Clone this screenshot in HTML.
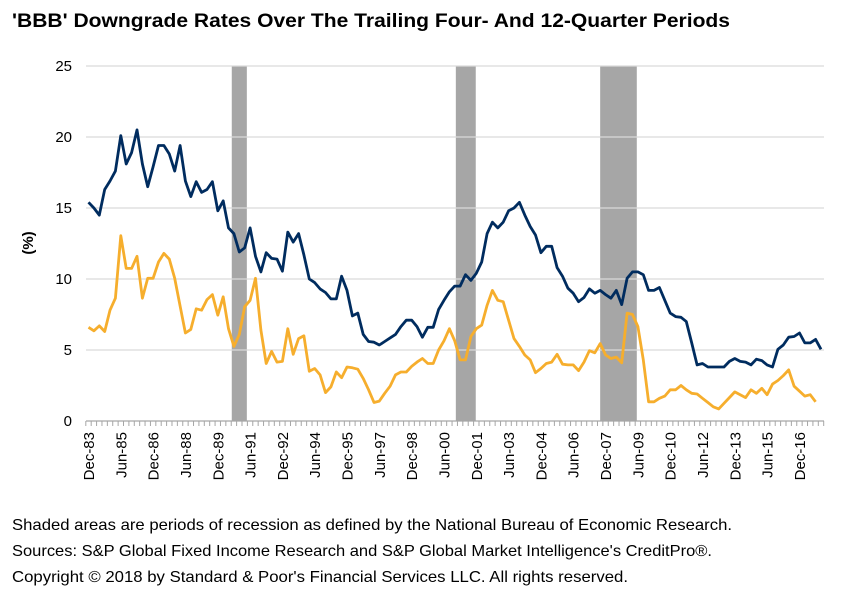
<!DOCTYPE html>
<html><head><meta charset="utf-8">
<style>
body{margin:0;background:#fff;width:859px;height:615px;overflow:hidden;font-family:"Liberation Sans",Arial,sans-serif;}
svg{position:absolute;left:0;top:0}
</style></head>
<body>
<svg id="chart" width="859" height="615">
<text x="12" y="27" font-size="19" font-weight="bold" fill="#000" textLength="718" lengthAdjust="spacingAndGlyphs">'BBB' Downgrade Rates Over The Trailing Four- And 12-Quarter Periods</text>
<text transform="translate(33,243) rotate(-90)" text-anchor="middle" font-size="15" font-weight="bold">(%)</text>
<g id="bands"></g><g id="grid"></g><g id="xaxis"></g><g id="series"></g>
<text x="12" y="530" font-size="16" textLength="720" lengthAdjust="spacingAndGlyphs">Shaded areas are periods of recession as defined by the National Bureau of Economic Research.</text>
<text x="12" y="556" font-size="16" textLength="700" lengthAdjust="spacingAndGlyphs">Sources: S&amp;P Global Fixed Income Research and S&amp;P Global Market Intelligence's CreditPro®.</text>
<text x="12" y="582" font-size="16" textLength="616" lengthAdjust="spacingAndGlyphs">Copyright © 2018 by Standard &amp; Poor's Financial Services LLC. All rights reserved.</text>
</svg>
<script>
const tickLabels=["Dec-83","Jun-85","Dec-86","Jun-88","Dec-89","Jun-91","Dec-92","Jun-94","Dec-95","Jun-97","Dec-98","Jun-00","Dec-01","Jun-03","Dec-04","Jun-06","Dec-07","Jun-09","Dec-10","Jun-12","Dec-13","Jun-15","Dec-16"];
const yTicks=[0,5,10,15,20,25];
const recessionStart=[26.6,68.2,95.0];
const recessionEnd=[29.4,71.9,101.8];
const twelveQuarter=[15.4,15.0,14.5,16.3,16.9,17.6,20.1,18.1,18.9,20.5,18.1,16.5,17.9,19.4,19.4,18.8,17.6,19.4,16.9,15.8,16.85,16.1,16.3,16.85,14.8,15.5,13.6,13.2,11.9,12.2,13.6,11.6,10.5,11.85,11.45,11.4,10.55,13.3,12.6,13.2,11.7,10.0,9.75,9.3,9.05,8.6,8.6,10.2,9.2,7.4,7.6,6.1,5.6,5.55,5.35,5.6,5.85,6.1,6.65,7.1,7.1,6.65,5.9,6.6,6.6,7.85,8.5,9.1,9.5,9.5,
10.3,9.9,10.4,11.2,13.2,14.0,13.6,14.0,14.8,15.0,15.4,14.5,13.7,13.1,11.85,12.3,12.3,10.8,10.2,9.35,9.0,8.4,8.7,9.3,9.0,9.2,8.9,8.65,9.2,8.2,10.05,10.5,10.5,10.3,9.2,9.2,9.4,8.5,7.6,7.35,7.3,7.0,5.5,3.95,4.05,3.8,3.8,3.8,3.8,4.2,4.4,4.2,4.15,3.95,4.35,4.25,3.95,3.8,5.05,5.35,5.9,5.95,6.2,5.5,5.5,5.75,5.05];
const fourQuarter=[6.6,6.35,6.7,6.3,7.8,8.65,13.05,10.75,10.75,11.6,8.65,10.05,10.05,11.2,11.8,11.4,10.05,8.1,6.2,6.45,7.9,7.8,8.55,8.9,7.45,8.75,6.5,5.25,6.1,8.05,8.5,10.05,6.4,4.05,4.9,4.15,4.2,6.5,4.7,5.8,6.0,3.5,3.7,3.25,2.0,2.4,3.45,3.05,3.8,3.75,3.65,3.0,2.2,1.3,1.4,1.95,2.45,3.25,3.45,3.45,3.85,4.15,4.4,4.05,4.05,5.0,5.65,6.5,5.65,4.3,
4.3,5.95,6.5,6.75,8.15,9.2,8.5,8.4,7.1,5.8,5.25,4.65,4.3,3.4,3.7,4.05,4.15,4.7,4.0,3.95,3.95,3.55,4.15,4.95,4.8,5.45,4.65,4.4,4.5,4.1,7.6,7.5,6.65,4.3,1.35,1.35,1.6,1.75,2.2,2.2,2.5,2.2,1.95,1.9,1.6,1.3,1.0,0.85,1.25,1.65,2.05,1.85,1.65,2.2,1.95,2.3,1.85,2.6,2.85,3.2,3.6,2.45,2.1,1.75,1.85,1.35];
const NS='http://www.w3.org/2000/svg';
const N=twelveQuarter.length;
const X0=88.5,DX=5.386,PL=86,PR=824,Y0=421,YS=14.2;
function x(i){return X0+i*DX;}
function y(v){return Y0-v*YS;}
function mk(tag,attrs,parent){const e=document.createElementNS(NS,tag);for(const k in attrs)e.setAttribute(k,attrs[k]);parent.appendChild(e);return e;}
const bands=document.getElementById('bands');
for(let k=0;k<recessionStart.length;k++){
 const r=mk('rect',{x:x(recessionStart[k]),y:y(25),width:x(recessionEnd[k])-x(recessionStart[k]),height:y(0)-y(25),fill:'#a6a6a6'},bands);
 
 
}
const grid=document.getElementById('grid');
yTicks.forEach(v=>{
 if(v>0){const l=mk('line',{x1:PL,x2:PR,y1:y(v),y2:y(v),stroke:'#d9d9d9','stroke-width':1.3},grid);
 
 }
 const t=mk('text',{x:72,y:y(v)+5,'text-anchor':'end','font-size':15},grid);
 t.textContent=v;
 
 
});
const xa=document.getElementById('xaxis');
const al=mk('line',{x1:PL,x2:PR,y1:Y0,y2:Y0,stroke:'#a6a6a6','stroke-width':1.3},xa);


for(let i=0;i<=N;i++){
 const tx=x(i-0.5);
 const tk=mk('line',{x1:tx,x2:tx,y1:Y0,y2:Y0+5,stroke:'#a6a6a6','stroke-width':1},xa);
 
 
}
tickLabels.forEach((s,k)=>{
 const i=k*6;
 const t=mk('text',{transform:`translate(${x(i)+5.5},432) rotate(-90)`,'text-anchor':'end','font-size':15},xa);
 t.textContent=s;
 
 
});
const ser=document.getElementById('series');
function line(arr,color,name){
 const p=mk('polyline',{points:arr.map((v,i)=>x(i).toFixed(1)+','+y(v).toFixed(1)).join(' '),fill:'none',stroke:color,'stroke-width':2.8,'stroke-linejoin':'round'},ser);
 
 
}
line(fourQuarter,'#f6ae2d','four-quarter-rate-line');
line(twelveQuarter,'#002c5f','twelve-quarter-rate-line');
</script>
</body></html>
